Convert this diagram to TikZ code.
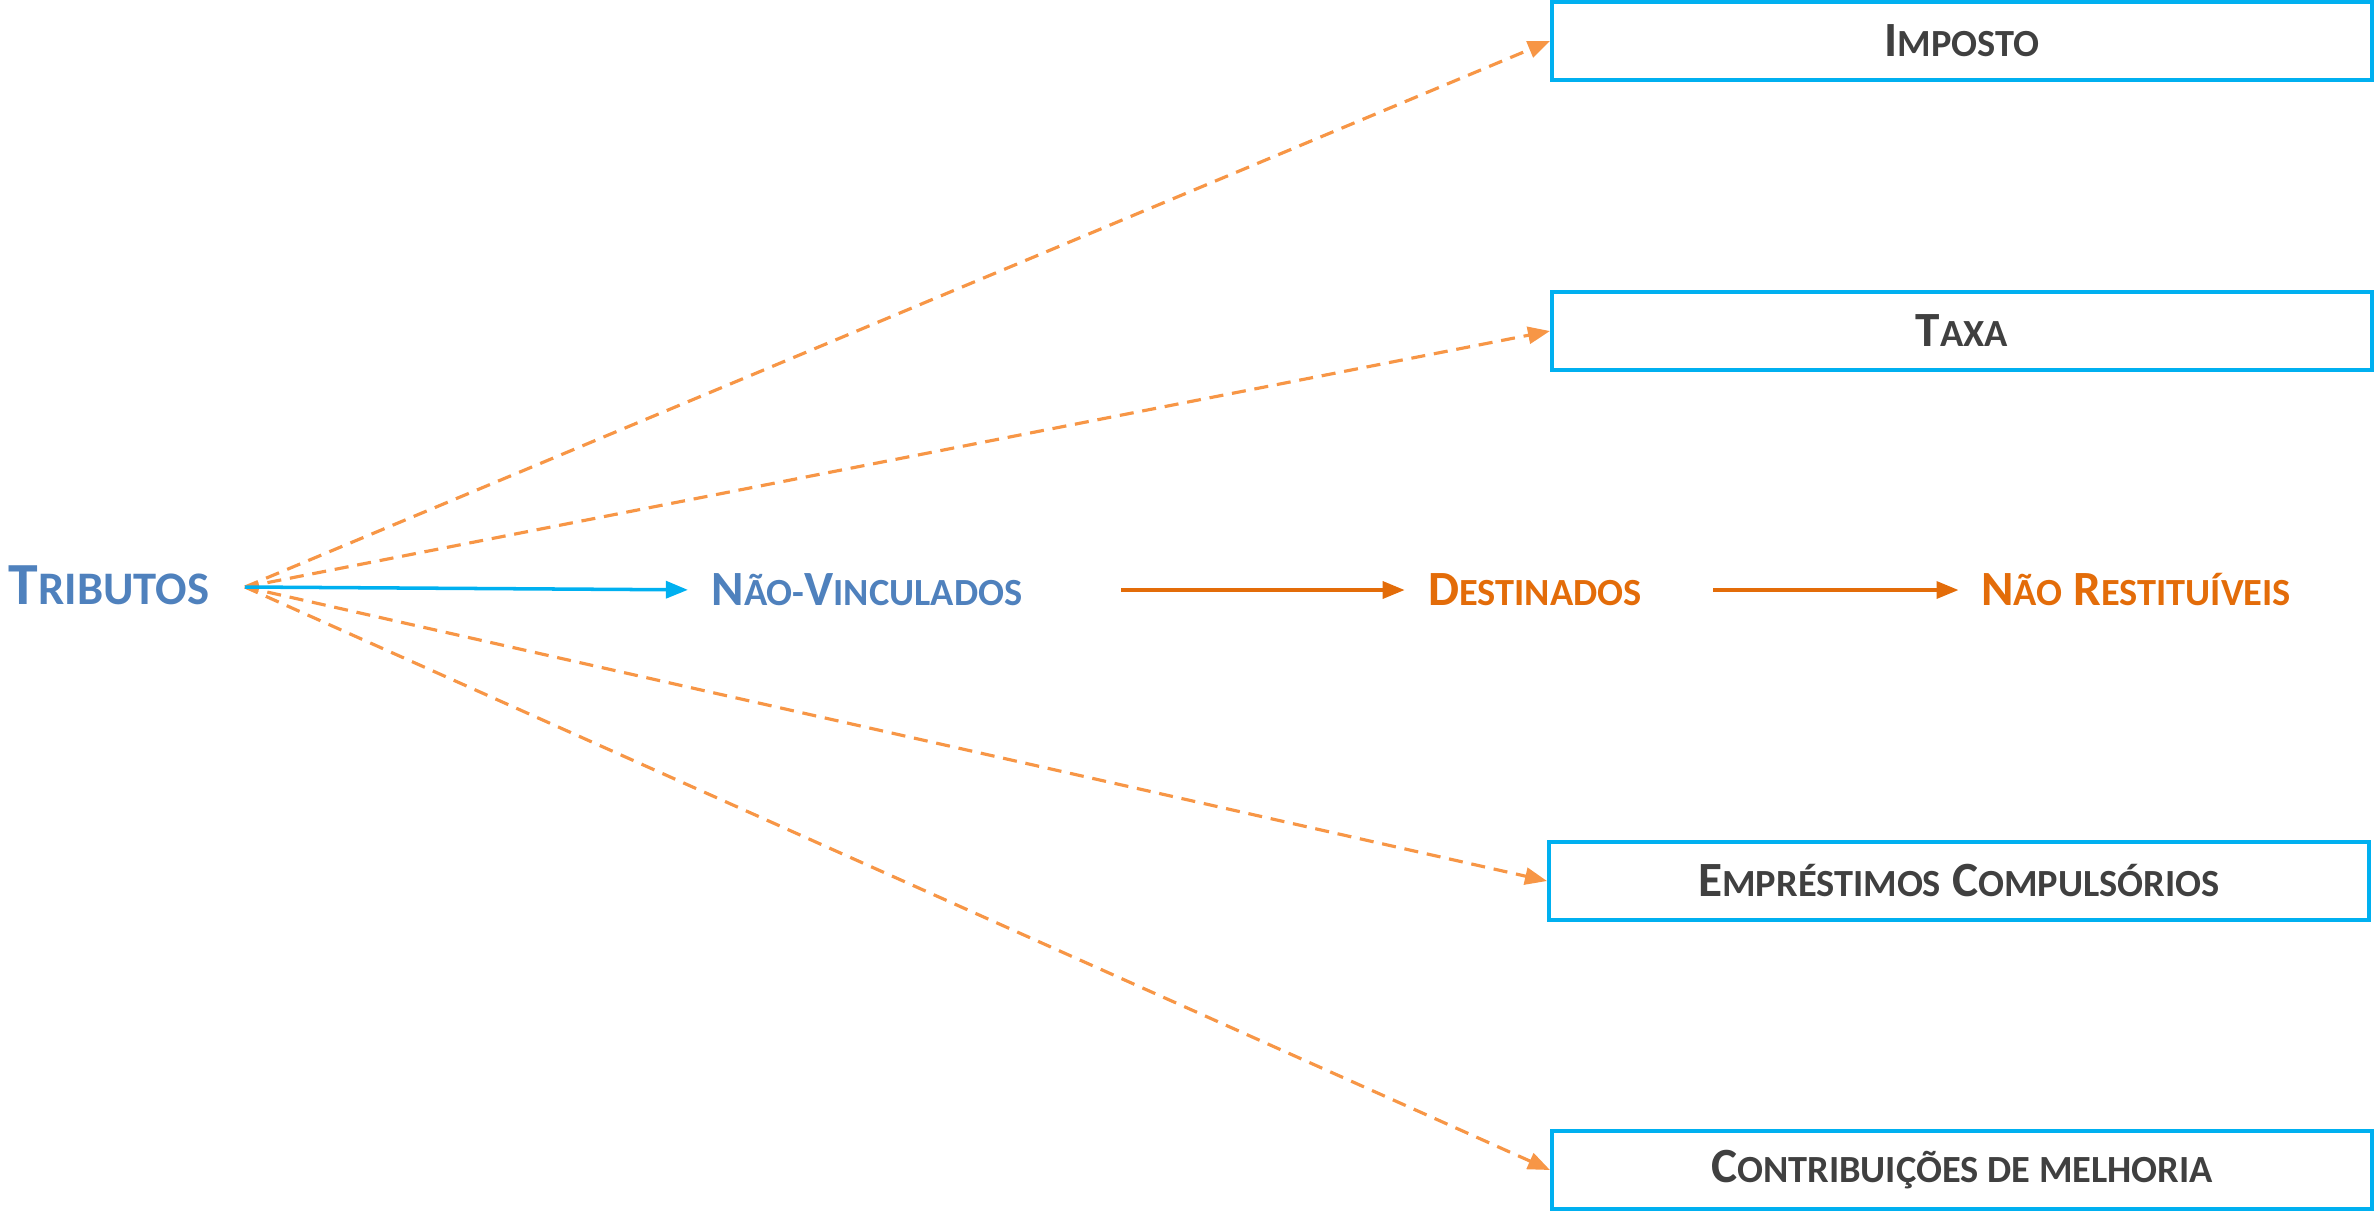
\documentclass[tikz,border=0pt]{standalone}
\usepackage{fontspec}
\setmainfont{Carlito}
\usepackage{graphicx}
\usetikzlibrary{arrows.meta,positioning}

\definecolor{tribblue}{HTML}{4F81BD}
\definecolor{darkorange}{HTML}{E36C09}
\definecolor{lightorange}{HTML}{F79646}
\definecolor{cyanline}{HTML}{00B0F0}
\definecolor{boxtext}{HTML}{404040}

% fake small caps, as the slide does
\newcommand{\smc}[1]{\scalebox{0.78}{#1}}

\begin{document}
\begin{tikzpicture}[x=0.01cm,y=-0.01cm,>={Triangle[length=0.22cm,width=0.17cm]},
  kind/.style={draw=cyanline,line width=1pt,minimum width=8.2cm,minimum height=0.78cm,
    inner sep=0pt,text=boxtext,font=\fontsize{14}{17}\selectfont\bfseries},
  lbl/.style={inner sep=0pt,font=\fontsize{14}{17}\selectfont\bfseries},
  split/.style={->,lightorange,dashed,line width=0.9pt,dash pattern=on 4pt off 2.5pt},
  chain/.style={->,darkorange,line width=1pt}]
  \useasboundingbox (0,0) rectangle (2374,1211);

  \node[lbl,anchor=west,text=tribblue,font=\fontsize{17}{20}\selectfont\bfseries](trib) at (8,585){T\smc{RIBUTOS}};
  \coordinate (src) at (245,587);

  \node[kind](imp) at (1962,41){I\smc{MPOSTO}};
  \node[kind](tax) at (1962,331){T\smc{AXA}};
  \node[kind](emp) at (1959,881){E\smc{MPRÉSTIMOS} C\smc{OMPULSÓRIOS}};
  \node[kind](con) at (1962,1170){C\smc{ONTRIBUIÇÕES DE MELHORIA}};

  \node[lbl,text=tribblue](nv) at (867,590){N\smc{ÃO-}V\smc{INCULADOS}};
  \node[lbl,text=darkorange](dest) at (1535,590){D\smc{ESTINADOS}};
  \node[lbl,text=darkorange](nr) at (2136,590){N\smc{ÃO} R\smc{ESTITUÍVEIS}};

  \draw[split] (src) -- (imp.west);
  \draw[split] (src) -- (tax.west);
  \draw[split] (src) -- (emp.west);
  \draw[split] (src) -- (con.west);

  \draw[->,cyanline,line width=1pt,shorten >=0.23cm] (src) -- (nv.west);
  \draw[chain,shorten <=0.98cm,shorten >=0.23cm] (nv.east) -- (dest.west);
  \draw[chain,shorten <=0.71cm,shorten >=0.22cm] (dest.east) -- (nr.west);
\end{tikzpicture}
\end{document}
